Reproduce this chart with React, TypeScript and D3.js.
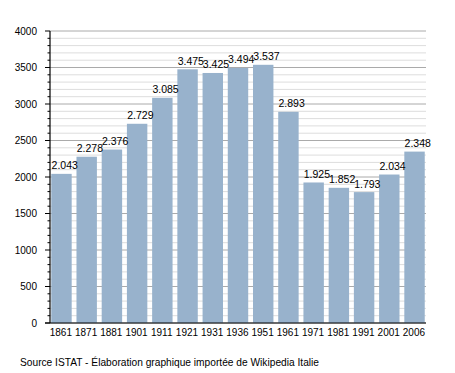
import React from "react";
import * as d3 from "d3";

const years = ["1861","1871","1881","1901","1911","1921","1931","1936","1951","1961","1971","1981","1991","2001","2006"];
const population = [2043,2278,2376,2729,3085,3475,3425,3494,3537,2893,1925,1852,1793,2034,2348];
const valueLabels = ["2.043","2.278","2.376","2.729","3.085","3.475","3.425","3.494","3.537","2.893","1.925","1.852","1.793","2.034","2.348"];
const yMajorTicks = [0,500,1000,1500,2000,2500,3000,3500,4000];
const sourceText = "Source ISTAT - Élaboration graphique importée de Wikipedia Italie";

const W = 455, H = 373;
const left = 50, right = 426, top = 31, bottom = 323;
const font = "'Liberation Sans', Arial, sans-serif";

export default function App() {
  const x = d3.scaleBand<string>().domain(years).range([left, right]).paddingInner(0.19).paddingOuter(0.05);
  const y = d3.scaleLinear().domain([0, 4000]).range([bottom, top]);
  const minor = d3.range(0, 4001, 100).filter((v) => v % 500 !== 0);

  return (
    <svg width={W} height={H} style={{ position: "absolute", left: 0, top: 0, background: "#fff" }} fontFamily={font}>
      {minor.map((v) => (
        <g key={"m" + v}>
          <line x1={left} x2={right} y1={y(v)} y2={y(v)} stroke="#dddddd" strokeWidth={1} />
          <line x1={left - 2.5} x2={left} y1={y(v)} y2={y(v)} stroke="#000" strokeWidth={1} />
        </g>
      ))}
      {yMajorTicks.map((v) => (
        <g key={"M" + v}>
          <line x1={left} x2={right} y1={y(v)} y2={y(v)} stroke="#aaaaaa" strokeWidth={1} />
          <line x1={left - 5} x2={left} y1={y(v)} y2={y(v)} stroke="#000" strokeWidth={1} />
          <text x={37} y={y(v)} dy="0.35em" textAnchor="end" fontSize={10} fill="#000">{v}</text>
        </g>
      ))}
      {years.map((yr, i) => (
        <rect key={yr} x={x(yr)} y={y(population[i])} width={x.bandwidth()} height={bottom - y(population[i])} fill="#98b2cc" />
      ))}
      {years.map((yr, i) => (
        <text key={"v" + yr} x={(x(yr) as number) + 0.3} y={y(population[i]) - 4.5} fontSize={10.5} fill="#000">{valueLabels[i]}</text>
      ))}
      <line x1={left} x2={left} y1={top} y2={bottom} stroke="#000" strokeWidth={1.2} />
      <line x1={left - 5} x2={right} y1={bottom} y2={bottom} stroke="#000" strokeWidth={1.2} />
      {years.map((yr) => (
        <text key={"x" + yr} x={(x(yr) as number) + x.bandwidth() / 2 - 0.6} y={335.5} textAnchor="middle" fontSize={10} fill="#000">{yr}</text>
      ))}
      <text x={20} y={366} fontSize={10.2} fill="#000">{sourceText}</text>
    </svg>
  );
}
